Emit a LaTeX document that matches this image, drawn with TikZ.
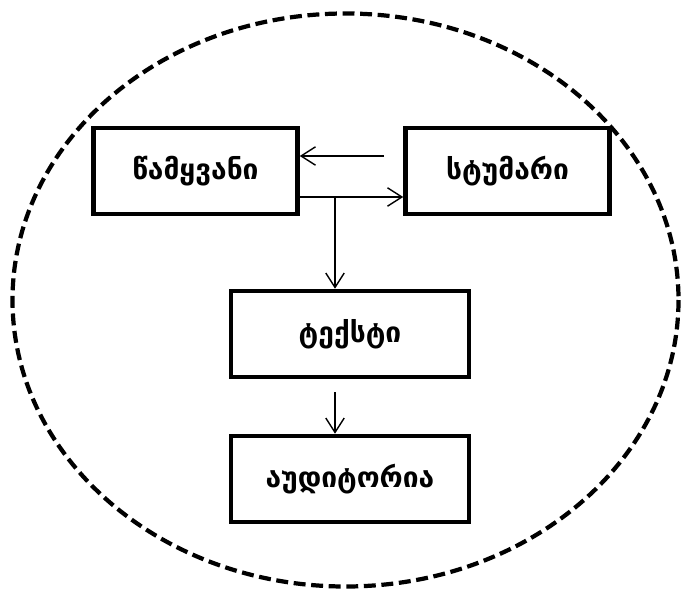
\documentclass[tikz,border=0pt]{standalone}
\usepackage{fontspec}
\newfontfamily\geofont[Script=Georgian]{DejaVu Sans}
\usetikzlibrary{arrows.meta}
\tikzset{
  rolebox/.style={draw, line width=3.2pt, rectangle, minimum width=5.1cm, minimum height=2.15cm, inner sep=0pt, font=\geofont\bfseries\fontsize{20}{24}\selectfont},
  flow/.style={line width=1pt, -{Straight Barb[length=3.6mm, width=4.6mm, line width=1pt]}}
}
\begin{document}
\begin{tikzpicture}[x=0.025cm, y=-0.025cm]
\useasboundingbox (0,0) rectangle (681,590);
\draw[line width=3pt, dash pattern=on 8.5pt off 4pt] (345.5,300) ellipse [x radius=333, y radius=286.5];
\node[rolebox] (host) at (195.5,171){წამყვანი};
\node[rolebox] (guest) at (507.5,171){სტუმარი};
\node[rolebox, minimum width=5.95cm] (text) at (350,334){ტექსტი};
\node[rolebox, minimum width=5.95cm] (audience) at (350,479){აუდიტორია};
\coordinate (gstart) at (384,156);
\coordinate (split) at (335,197);
\coordinate (tstart) at (335,392);
\draw[flow] (gstart) -- (gstart -| host.east);
\draw[flow] (split -| host.east) -- (split -| guest.west);
\draw[flow] (split) -- (split |- text.north);
\draw[flow] (tstart) -- (tstart |- audience.north);
\end{tikzpicture}
\end{document}
